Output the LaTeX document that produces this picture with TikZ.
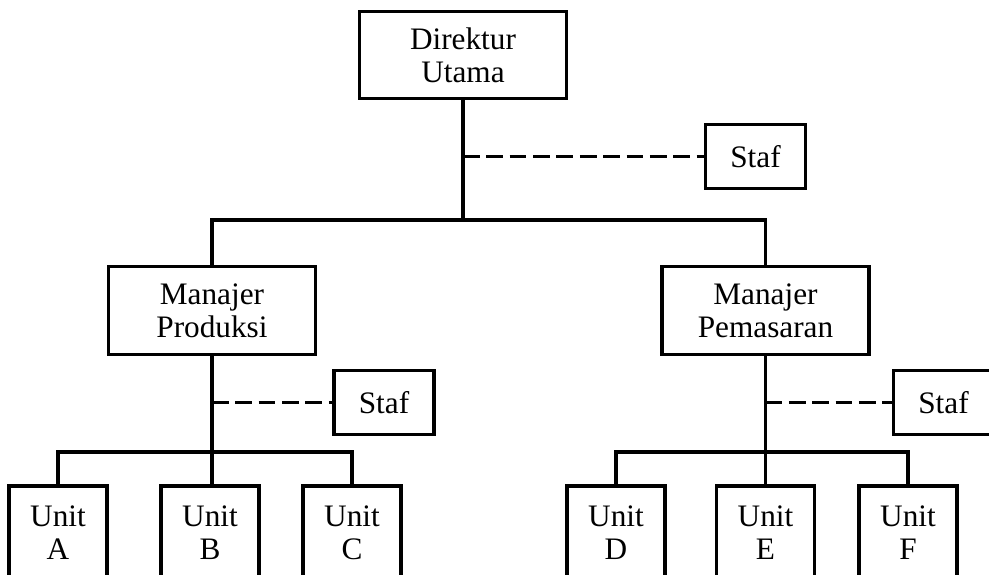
\documentclass[tikz,border=0pt]{standalone}
\usepackage{fontspec}
\setmainfont{Liberation Serif}
\tikzset{box/.style={draw, rectangle, align=center, inner sep=0pt, font=\fontsize{17.8}{18.9}\selectfont},
  bigbox/.style={box, minimum width=4.14cm, minimum height=1.75cm},
  stafbox/.style={box, minimum width=2.0cm, minimum height=1.28cm},
  unitbox/.style={box, minimum width=1.96cm, minimum height=1.88cm},
  stafline/.style={dash pattern=on 9.5pt off 3.8pt}}

\begin{document}
\begin{tikzpicture}[x=0.02cm,y=-0.02cm,line width=1.8pt]
   \useasboundingbox (0,0) rectangle (989,574);
   \clip (0,0) rectangle (989,574);
   % top
   \node[bigbox]  (dir)   at (463,55)      {Direktur\\Utama};
   \node[stafbox] (staf1) at (755.5,156.5) {Staf};
   \coordinate (top) at (463,220);
   \draw (dir) -- (top);
   \draw[stafline] (staf1.west -| dir.south) -- (staf1.west);
   % managers
   \node[bigbox]  (prod)  at (212,310.5)   {Manajer\\Produksi};
   \node[bigbox]  (pem)   at (765.5,310.5) {Manajer\\Pemasaran};
   \draw (prod.north) |- (top) -| (pem.north);
   \node[stafbox] (staf2) at (384,402.5)   {Staf};
   \node[stafbox] (staf3) at (943.5,402.5) {Staf};
   \draw[stafline] (staf2.west -| prod.south) -- (staf2.west);
   \draw[stafline] (staf3.west -| pem.south) -- (staf3.west);
   % units
   \node[unitbox] (ua) at (58,533)    {Unit\\A};
   \node[unitbox] (ub) at (210,533)   {Unit\\B};
   \node[unitbox] (uc) at (352,533)   {Unit\\C};
   \node[unitbox] (ud) at (616,533)   {Unit\\D};
   \node[unitbox] (ue) at (765.5,533) {Unit\\E};
   \node[unitbox] (uf) at (908,533)   {Unit\\F};
   \coordinate (left)  at (212,452);
   \coordinate (right) at (765.5,452);
   \draw (prod) -- (prod |- ub.north);
   \draw (ua.north) |- (left) -| (uc.north);
   \draw (pem) -- (pem |- ue.north);
   \draw (ud.north) |- (right) -| (uf.north);
\end{tikzpicture}
\end{document}
